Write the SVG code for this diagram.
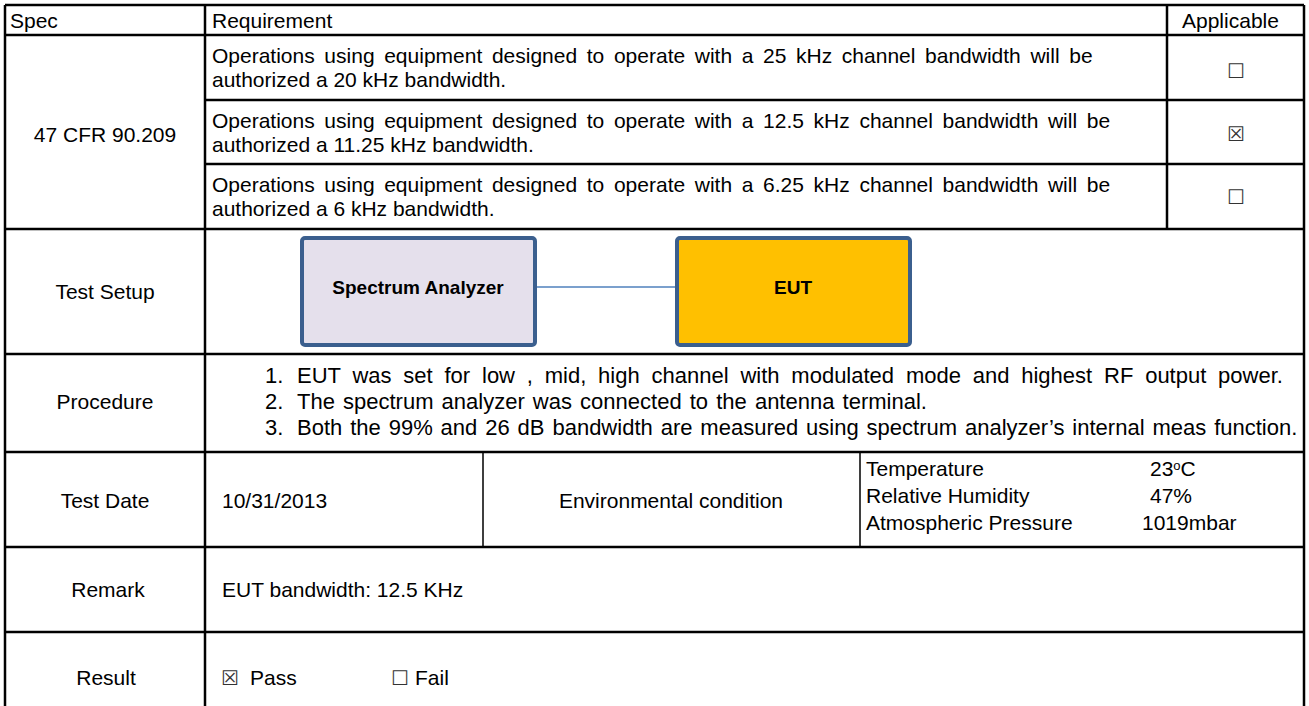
<svg xmlns="http://www.w3.org/2000/svg" width="1309" height="706" viewBox="0 0 1309 706">
  <style>
    .t { font-family: "Liberation Sans", Arial, sans-serif; font-size: 21px; fill: #000; }
    .r { word-spacing: 3.8px; }
    .p { font-size: 22px; }
    .c { text-anchor: middle; }
    .box { font-family: "DejaVu Sans", sans-serif; font-size: 20px; fill: #333; text-anchor: middle; }
    .grid { stroke: #000; stroke-width: 2.5; fill: none; }
    .node { stroke: #3b5f8e; stroke-width: 4; }
    .lbl { font-family: "Liberation Sans", Arial, sans-serif; font-size: 19px; font-weight: bold; fill: #000; text-anchor: middle; }
    .wire { stroke: #4f81bd; stroke-width: 1.5; fill: none; }
  </style>
  <rect width="1309" height="706" fill="#fff"/>

  <!-- table grid -->
  <g id="grid" class="grid">
    <path d="M5,5 H1304 M5,5 V706 M1304,5 V706 M205,5 V706 M1167,5 V229"/>
    <path d="M5,35 H1304 M205,100 H1304 M205,164 H1304 M5,229 H1304 M5,354 H1304 M5,452 H1304 M5,547 H1304 M5,632 H1304"/>
    <path d="M483,452 V547 M860,452 V547" stroke-width="1.5"/>
  </g>

  <!-- header row -->
  <g id="header">
    <text class="t" x="10" y="28">Spec</text>
    <text class="t" x="212" y="28">Requirement</text>
    <text class="t" x="1182" y="28">Applicable</text>
  </g>

  <!-- 47 CFR 90.209 requirements -->
  <g id="spec">
    <text class="t c" x="105" y="142">47 CFR 90.209</text>
  </g>
  <g id="req1">
    <text class="t r" x="212" y="63">Operations using equipment designed to operate with a 25 kHz channel bandwidth will be</text>
    <text class="t" x="212" y="87">authorized a 20 kHz bandwidth.</text>
    <text class="box" x="1236" y="78">☐</text>
  </g>
  <g id="req2">
    <text class="t r" x="212" y="128">Operations using equipment designed to operate with a 12.5 kHz channel bandwidth will be</text>
    <text class="t" x="212" y="152">authorized a 11.25 kHz bandwidth.</text>
    <text class="box" x="1236" y="141">☒</text>
  </g>
  <g id="req3">
    <text class="t r" x="212" y="192">Operations using equipment designed to operate with a 6.25 kHz channel bandwidth will be</text>
    <text class="t" x="212" y="216">authorized a 6 kHz bandwidth.</text>
    <text class="box" x="1236" y="204">☐</text>
  </g>

  <!-- test setup -->
  <g id="setup-label">
    <text class="t c" x="105" y="299">Test Setup</text>
  </g>
  <g id="connectors">
    <line class="wire" x1="535" y1="287" x2="677" y2="287"/>
  </g>
  <g id="spectrum-analyzer">
    <rect class="node" x="302" y="238" width="233" height="107" rx="3" fill="#e5e0ec"/>
    <text class="lbl" x="418" y="294">Spectrum Analyzer</text>
  </g>
  <g id="eut">
    <rect class="node" x="677" y="238" width="233" height="107" rx="3" fill="#ffc000"/>
    <text class="lbl" x="793" y="294">EUT</text>
  </g>

  <!-- procedure -->
  <g id="procedure">
    <text class="t c" x="105" y="409">Procedure</text>
    <text class="t p" x="265" y="383">1.</text>
    <text class="t p" x="297" y="383" word-spacing="5.7">EUT was set for low , mid, high channel with modulated mode and highest RF output power.</text>
    <text class="t p" x="265" y="409">2.</text>
    <text class="t p" x="297" y="409" word-spacing="2">The spectrum analyzer was connected to the antenna terminal.</text>
    <text class="t p" x="265" y="435">3.</text>
    <text class="t p" x="297" y="435" word-spacing="1.8">Both the 99% and 26 dB bandwidth are measured using spectrum analyzer’s internal meas function.</text>
  </g>

  <!-- test date and environment -->
  <g id="test-date">
    <text class="t c" x="105" y="508">Test Date</text>
    <text class="t" x="222" y="508">10/31/2013</text>
    <text class="t c" x="671" y="508">Environmental condition</text>
    <text class="t" x="866" y="476">Temperature</text>
    <text class="t" x="1150" y="476">23<tspan font-size="13" dy="-6">o</tspan><tspan dy="6">C</tspan></text>
    <text class="t" x="866" y="503">Relative Humidity</text>
    <text class="t" x="1150" y="503">47%</text>
    <text class="t" x="866" y="530" font-size="21.5">Atmospheric Pressure</text>
    <text class="t" x="1142" y="530">1019mbar</text>
  </g>

  <!-- remark -->
  <g id="remark">
    <text class="t c" x="108" y="597">Remark</text>
    <text class="t" x="222" y="597" font-size="22">EUT bandwidth: 12.5 KHz</text>
  </g>

  <!-- result -->
  <g id="result">
    <text class="t c" x="106" y="685">Result</text>
    <text class="box" x="230" y="685">☒</text>
    <text class="t" x="250" y="685">Pass</text>
    <text class="box" x="400" y="685">☐</text>
    <text class="t" x="415" y="685">Fail</text>
  </g>
</svg>
